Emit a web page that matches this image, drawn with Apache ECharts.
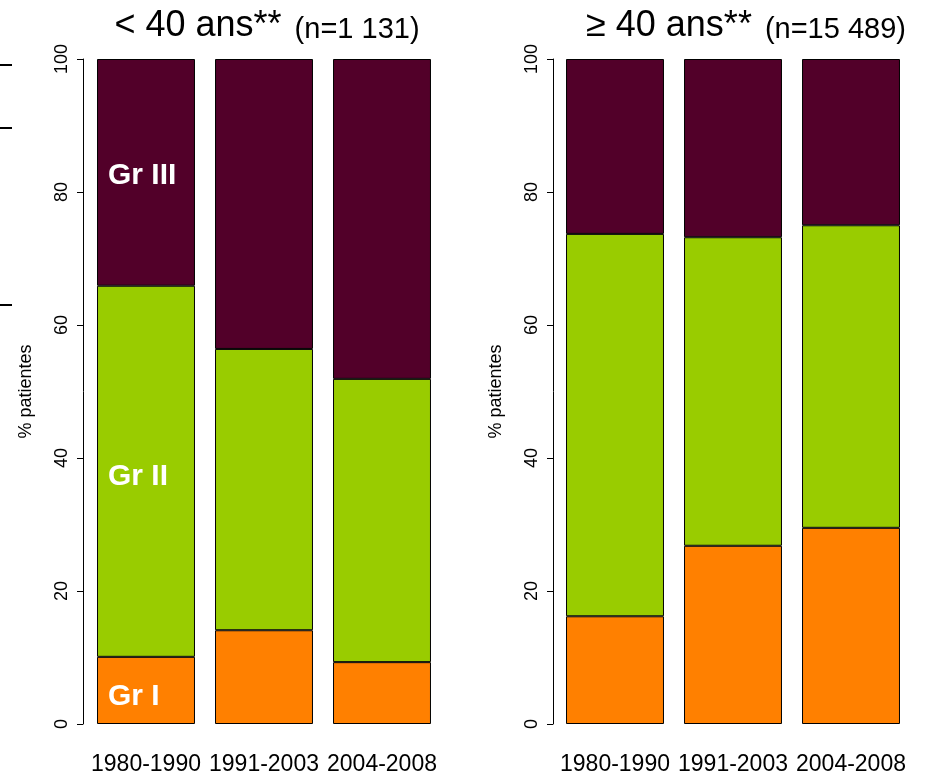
<!DOCTYPE html>
<html>
<head>
<meta charset="utf-8">
<script src="https://cdn.jsdelivr.net/npm/echarts@6/dist/echarts.min.js"></script>
<style>html,body{margin:0;padding:0;background:#fff;}#c{width:932px;height:776px;}</style>
</head>
<body>
<div id="c"></div>
<script>
const categories = ['1980-1990', '1991-2003', '2004-2008'];
const yTicks = [0, 20, 40, 60, 80, 100];
const groupNames = ['Gr I', 'Gr II', 'Gr III'];
// Left panel: < 40 ans (n=1 131)
const young_grI = [10.1, 14.1, 9.3];
const young_grII = [55.8, 42.3, 42.6];
const young_grIII = [34.1, 43.6, 48.1];
// Right panel: >= 40 ans (n=15 489)
const old_grI = [16.2, 26.8, 29.5];
const old_grII = [57.5, 46.4, 45.5];
const old_grIII = [26.3, 26.8, 25.0];

const colors = ['#FF8000', '#99CC00', '#520029'];
const font = 'Liberation Sans, Arial, sans-serif';

function yAxis(gi, off) {
  return {
    type: 'value', gridIndex: gi, min: yTicks[0], max: yTicks[yTicks.length - 1], interval: 20,
    offset: off,
    name: '% patientes', nameLocation: 'middle', nameGap: 48,
    nameTextStyle: { fontFamily: font, fontSize: 18, color: '#000' },
    axisLine: { show: true, lineStyle: { color: '#000', width: 1 } },
    axisTick: { show: true, length: 6, lineStyle: { color: '#000' } },
    axisLabel: { rotate: 90, margin: 12, fontFamily: font, fontSize: 18, color: '#000' },
    splitLine: { show: false }
  };
}
function xAxis(gi) {
  return {
    type: 'category', gridIndex: gi, data: categories,
    axisLine: { show: false }, axisTick: { show: false },
    axisLabel: { interval: 0, hideOverlap: false, margin: 29, fontFamily: font, fontSize: 23, color: '#000' }
  };
}
const labelOffsets = [[0, 6], [0, 5], [0, 3]];
function series(gi, vals, k, withLabel) {
  return {
    type: 'bar', xAxisIndex: gi, yAxisIndex: gi, stack: 'p' + gi,
    name: groupNames[k],
    barCategoryGap: '17%',
    itemStyle: { color: colors[k], borderColor: '#000', borderWidth: 1 },
    data: vals.map((v, i) => (withLabel && i === 0) ? {
      value: v,
      label: {
        show: true, position: 'insideLeft', distance: 11, offset: labelOffsets[k],
        formatter: groupNames[k], color: '#fff', fontWeight: 'bold', fontSize: 30, fontFamily: font
      }
    } : v)
  };
}
const titleRich = {
  a: { fontFamily: font, fontSize: 36, fontWeight: 'normal', color: '#000' },
  b: { fontFamily: font, fontSize: 29, fontWeight: 'normal', color: '#000', padding: [7, 0, 0, 8] }
};

const chart = echarts.init(document.getElementById('c'), null, { renderer: 'canvas' });
chart.setOption({
  animation: false,
  backgroundColor: '#fff',
  title: [
    { text: '{a|< 40 ans**} {b|(n=1 131)}', left: 262, top: 3, textAlign: 'center',
      textStyle: { fontWeight: 'normal', rich: titleRich } },
    { text: '{a|≥ 40 ans**} {b|(n=15 489)}', left: 741, top: 3, textAlign: 'center',
      textStyle: { fontWeight: 'normal', rich: titleRich } }
  ],
  grid: [
    { left: 87, right: 491, top: 59, bottom: 52 },
    { left: 556, right: 22, top: 59, bottom: 52 }
  ],
  xAxis: [xAxis(0), xAxis(1)],
  yAxis: [yAxis(0, 4), yAxis(1, 3)],
  series: [
    series(0, young_grI, 0, true), series(0, young_grII, 1, true), series(0, young_grIII, 2, true),
    series(1, old_grI, 0, false), series(1, old_grII, 1, false), series(1, old_grIII, 2, false)
  ],
  graphic: [
    { type: 'line', shape: { x1: 0, y1: 65, x2: 12, y2: 65 }, style: { stroke: '#000', lineWidth: 2 } },
    { type: 'line', shape: { x1: 0, y1: 128, x2: 12, y2: 128 }, style: { stroke: '#000', lineWidth: 2 } },
    { type: 'line', shape: { x1: 0, y1: 305, x2: 12, y2: 305 }, style: { stroke: '#000', lineWidth: 2 } }
  ]
});
</script>
</body>
</html>
